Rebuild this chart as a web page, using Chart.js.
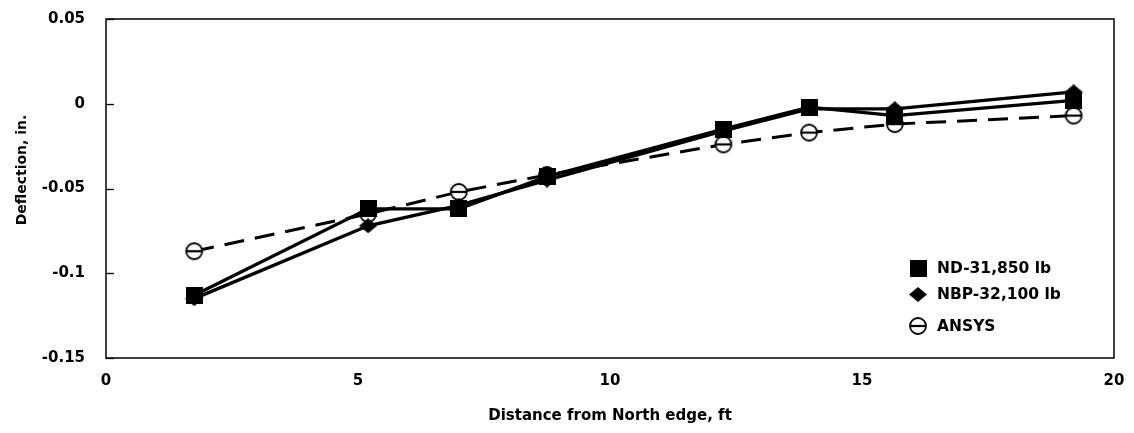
<!DOCTYPE html>
<html>
<head>
<meta charset="utf-8">
<script src="https://cdn.jsdelivr.net/npm/chart.js@4.4.1/dist/chart.umd.min.js"></script>
<style>
  html, body { margin: 0; padding: 0; background: #fff; }
  #wrap { width: 1134px; height: 433px; }
</style>
</head>
<body>
<div id="wrap"><canvas id="chart" width="1134" height="433"></canvas></div>
<script>
// Measured deflections along the slab, distance from the north edge (ft)
const distances = [1.75, 5.2, 7.0, 8.75, 12.25, 13.95, 15.65, 19.2];
const nd31850   = [-0.113, -0.062, -0.062, -0.043, -0.015, -0.002, -0.007, 0.002];
const nbp32100  = [-0.115, -0.072, -0.060, -0.045, -0.016, -0.003, -0.003, 0.007];
const ansys     = [-0.087, -0.065, -0.052, -0.042, -0.024, -0.017, -0.012, -0.007];

const seriesNames = ['ND-31,850 lb', 'NBP-32,100 lb', 'ANSYS'];
const xTicks = [0, 5, 10, 15, 20];
const yTicks = [0.05, 0, -0.05, -0.1, -0.15];
const yTickLabels = ['0.05', '0', '-0.05', '-0.1', '-0.15'];
const xTitle = 'Distance from North edge, ft';
const yTitle = 'Deflection, in.';

const FONT = '"DejaVu Sans", "Liberation Sans", sans-serif';
const INK = '#000';

// Marker glyphs
function squareMarker(side) {
  const c = document.createElement('canvas');
  c.width = side; c.height = side;
  const g = c.getContext('2d');
  g.fillStyle = INK;
  g.fillRect(0, 0, side, side);
  return c;
}
function diamondMarker(w, h) {
  const c = document.createElement('canvas');
  c.width = w; c.height = h;
  const g = c.getContext('2d');
  g.fillStyle = INK;
  g.beginPath();
  g.moveTo(w / 2, 0); g.lineTo(w, h / 2); g.lineTo(w / 2, h); g.lineTo(0, h / 2);
  g.closePath(); g.fill();
  return c;
}
function thetaMarker(r) {
  const s = 2 * r + 4;
  const c = document.createElement('canvas');
  c.width = s; c.height = s;
  const g = c.getContext('2d');
  g.fillStyle = '#fff'; g.strokeStyle = INK; g.lineWidth = 1.8;
  g.beginPath(); g.arc(s / 2, s / 2, r, 0, Math.PI * 2); g.fill(); g.stroke();
  g.lineWidth = 2.2;
  g.beginPath(); g.moveTo(s / 2 - r, s / 2); g.lineTo(s / 2 + r, s / 2); g.stroke();
  return c;
}

const markers = [squareMarker(17), diamondMarker(18, 15), thetaMarker(8)];

function pts(ys) { return distances.map((x, i) => ({ x: x, y: ys[i] })); }

// Plot frame, inward tick marks and axis titles
const decor = {
  id: 'decor',
  beforeDatasetsDraw(chart) {
    const { ctx, chartArea: a, scales } = chart;
    ctx.save();
    ctx.strokeStyle = INK;
    ctx.lineWidth = 1.5;
    ctx.strokeRect(a.left, a.top, a.right - a.left, a.bottom - a.top);
    ctx.lineWidth = 1.3;
    scales.y.ticks.forEach(t => {
      const py = Math.round(scales.y.getPixelForValue(t.value)) + 0.5;
      ctx.beginPath(); ctx.moveTo(a.left, py); ctx.lineTo(a.left + 8, py); ctx.stroke();
    });
    ctx.restore();
  },
  afterDraw(chart) {
    const { ctx, chartArea: a } = chart;
    ctx.save();
    ctx.fillStyle = INK;
    ctx.font = 'bold 15px ' + FONT;
    ctx.textAlign = 'center';
    ctx.textBaseline = 'middle';
    ctx.fillText(xTitle, (a.left + a.right) / 2, a.bottom + 58);
    ctx.translate(22, a.top + 151);
    ctx.rotate(-Math.PI / 2);
    ctx.font = 'bold 14px ' + FONT;
    ctx.fillText(yTitle, 0, 0);
    ctx.restore();
  }
};

// Legend box in the lower right of the plot
const legendInside = {
  id: 'legendInside',
  afterDatasetsDraw(chart) {
    const { ctx, chartArea: a } = chart;
    const rows = [-90, -64, -32];
    ctx.save();
    ctx.fillStyle = INK;
    ctx.font = 'bold 15.5px ' + FONT;
    ctx.textAlign = 'left';
    ctx.textBaseline = 'middle';
    chart.data.datasets.forEach((ds, i) => {
      const cy = a.bottom + rows[i];
      const m = ds.pointStyle;
      ctx.drawImage(m, Math.round(918 - m.width / 2), Math.round(cy - m.height / 2));
      ctx.fillText(ds.label, 937, cy + 1);
    });
    ctx.restore();
  }
};

const lineCommon = {
  borderColor: INK,
  backgroundColor: INK,
  borderWidth: 3.4,
  pointRadius: 9,
  pointHoverRadius: 9,
  tension: 0,
  fill: false
};

new Chart(document.getElementById('chart'), {
  type: 'line',
  data: {
    datasets: [
      Object.assign({}, lineCommon, { label: seriesNames[0], data: pts(nd31850), pointStyle: markers[0] }),
      Object.assign({}, lineCommon, { label: seriesNames[1], data: pts(nbp32100), pointStyle: markers[1] }),
      Object.assign({}, lineCommon, { label: seriesNames[2], data: pts(ansys), pointStyle: markers[2], borderDash: [20, 11], borderWidth: 3 })
    ]
  },
  options: {
    responsive: false,
    animation: false,
    devicePixelRatio: 1,
    layout: { padding: { left: 0, top: 19, right: 20, bottom: 0 } },
    plugins: { legend: { display: false }, tooltip: { enabled: false } },
    scales: {
      x: {
        type: 'linear',
        min: 0, max: 20,
        afterBuildTicks(s) { s.ticks = xTicks.map(v => ({ value: v })); },
        afterFit(s) { s.height = 75; s.paddingLeft = 0; s.paddingRight = 0; },
        grid: { display: false },
        border: { display: false },
        ticks: { color: INK, font: { family: FONT, size: 15, weight: 'bold' }, padding: 6, maxRotation: 0 }
      },
      y: {
        type: 'linear',
        min: -0.15, max: 0.05,
        afterBuildTicks(s) { s.ticks = yTicks.map(v => ({ value: v })); },
        afterFit(s) { s.width = 106; s.paddingTop = 0; s.paddingBottom = 0; },
        grid: { display: false },
        border: { display: false },
        ticks: {
          color: INK,
          font: { family: FONT, size: 15, weight: 'bold' },
          padding: 13,
          callback(v) {
            const i = yTicks.findIndex(t => Math.abs(t - v) < 1e-9);
            return i >= 0 ? yTickLabels[i] : '';
          }
        }
      }
    }
  },
  plugins: [decor, legendInside]
});
</script>
</body>
</html>
